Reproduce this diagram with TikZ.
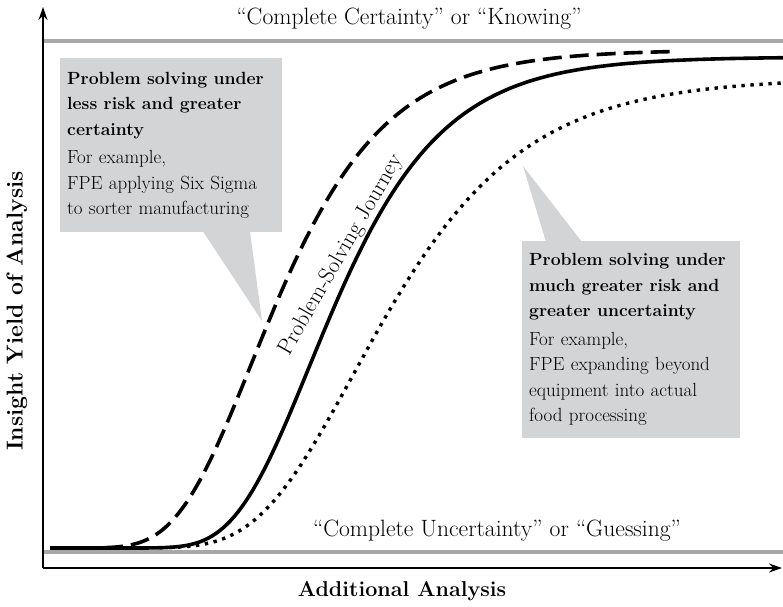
\documentclass[tikz,border=0pt]{standalone}
\usepackage{fontspec}
\usetikzlibrary{calc,arrows.meta}
\definecolor{bargray}{RGB}{168,168,168}
\definecolor{boxgray}{RGB}{211,212,214}
\newcommand{\headline}[1]{{\fontsize{17.6}{25.5}\selectfont\bfseries #1}}
\begin{document}
\begin{tikzpicture}[x=1pt,y=-1pt,
  axis/.style={line width=1.6pt,-{Stealth[length=13pt,width=9pt]}},
  limitbar/.style={bargray,line width=4.5pt},
  curve/.style={line width=3.6pt},
  dashcurve/.style={curve,dash pattern=on 19pt off 8pt},
  dotcurve/.style={line width=3.4pt,dash pattern=on 3.4pt off 5.6pt},
  boxtext/.style={fill=boxgray,align=left,anchor=north west,inner xsep=7pt,
    inner ysep=6pt,font={\fontsize{19}{25.5}\selectfont\hyphenpenalty=10000\relax}},
  wedge/.style={fill=boxgray},
  levellabel/.style={font=\fontsize{23.6}{26}\selectfont},
  axislabel/.style={font=\fontsize{21.5}{24}\selectfont\bfseries}
]
\useasboundingbox (0,0) rectangle (783,606);

% limits of the scale
\draw[limitbar] (43,41) -- (783,41);
\draw[limitbar] (43,552) -- (783,552);
\node[levellabel] (certain) at (409,19) {“Complete Certainty” or “Knowing”};
\node[levellabel] (uncertain) at (497,531) {“Complete Uncertainty” or “Guessing”};

% axes
\coordinate (origin) at (43,568);
\coordinate (ytop) at (43,7);
\coordinate (xend) at (782,568);
\draw[axis] (origin) -- (ytop);
\draw[axis] (origin) -- (xend);
\node[axislabel] (xlabel) at (402,591) {Additional Analysis};
\node[axislabel,rotate=90,font=\fontsize{23}{24}\selectfont\bfseries] (ylabel) at (17,311) {Insight Yield of Analysis};

% callout boxes
\node[boxtext,minimum width=222pt,minimum height=174pt,text width=208pt] (lbox) at (60,58)
  {\headline{Problem solving under}\\\headline{less risk and greater}\\\headline{certainty}\\[3pt]
   For example,\\FPE applying Six Sigma\\to sorter manufacturing};
\coordinate (ltip) at (262,321);
\fill[wedge] ($(lbox.south west)+(143,-1)$) -- (ltip) -- ($(lbox.south west)+(190,-1)$) -- cycle;

\node[boxtext,minimum width=218pt,minimum height=197pt,text width=204pt] (rbox) at (522,241)
  {\headline{Problem solving under}\\\headline{much greater risk and}\\\headline{greater uncertainty}\\[3pt]
   For example,\\FPE expanding beyond\\equipment into actual\\food processing};
\coordinate (rtip) at (523,166);
\fill[wedge] ($(rbox.north west)+(24,1)$) -- (rtip) -- ($(rbox.north west)+(60,1)$) -- cycle;

% learning curves (Gompertz-shaped rises)
\draw[dashcurve] plot[domain=50:670,samples=180]
  (\x,{548-498*exp(-min(exp(-(\x-251)/74),12))});
\draw[curve] plot[domain=50:783,samples=200]
  (\x,{548-491*exp(-min(exp(-(\x-309)/74),12))});
\draw[dotcurve] plot[domain=160:783,samples=200]
  (\x,{548-470*exp(-min(exp(-(\x-353)/95),12))});

\node[font=\fontsize{22.5}{24}\selectfont,rotate=60,anchor=base] (journey) at (346,258) {Problem-Solving Journey};
\end{tikzpicture}
\end{document}
